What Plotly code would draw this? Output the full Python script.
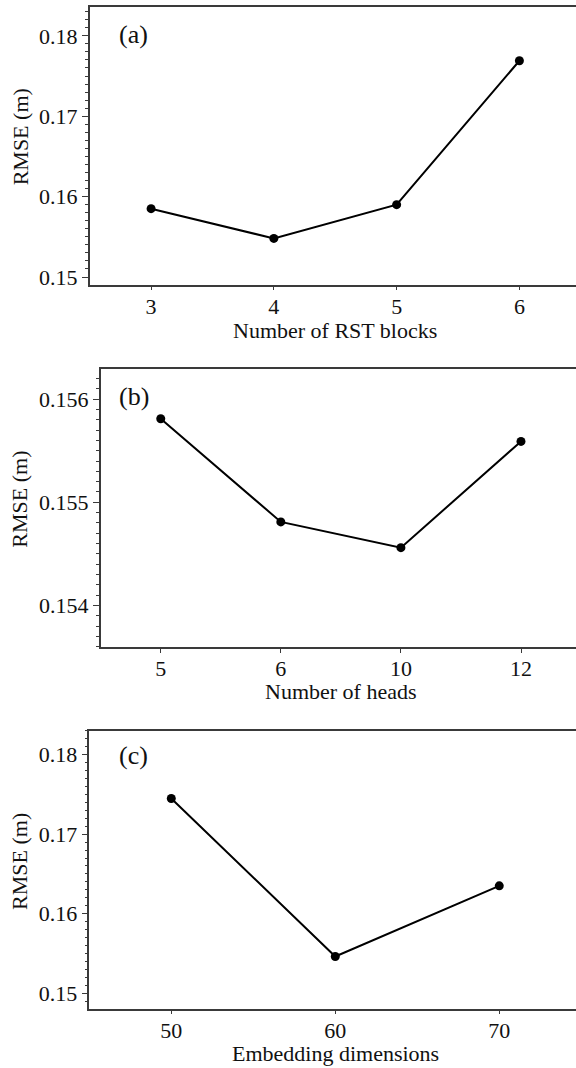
import plotly.graph_objects as go

# ---- data ----
rst_blocks = ["3", "4", "5", "6"]
rmse_blocks = [0.1585, 0.1548, 0.1590, 0.1769]

heads = ["5", "6", "10", "12"]
rmse_heads = [0.15581, 0.15481, 0.15456, 0.15559]

embed_dims = ["50", "60", "70"]
rmse_embed = [0.1745, 0.1546, 0.1635]

panel_labels = ["(a)", "(b)", "(c)"]
x_titles = ["Number of RST blocks", "Number of heads", "Embedding dimensions"]
y_title = "RMSE (m)"

W, H = 576, 1068
FONT = "Liberation Serif"
AX = "#3a3a3a"

fig = go.Figure()

panels = [
    dict(x=rst_blocks, y=rmse_blocks, left=89.7, top=7.3, bottom=286.0,
         xr=[-0.5, 3.461], yr=[0.14905, 0.18355], dt=0.01, mdt=0.001,
         lab_y=35, xt_y=332, xt_x=335, yt_y=138),
    dict(x=heads, y=rmse_heads, left=100.7, top=370.7, bottom=650.0,
         xr=[-0.5, 3.458], yr=[0.153598, 0.156292], dt=0.001, mdt=0.0001,
         lab_y=398, xt_y=695, xt_x=341, yt_y=502),
    dict(x=embed_dims, y=rmse_embed, left=89.3, top=734.3, bottom=1013.3,
         xr=[-0.5, 2.468], yr=[0.14805, 0.18301], dt=0.01, mdt=0.001,
         lab_y=759, xt_y=1058, xt_x=335, yt_y=866),
]

annotations = []
for i, p in enumerate(panels):
    n = "" if i == 0 else str(i + 1)
    fig.add_trace(go.Scatter(
        x=p["x"], y=p["y"], mode="lines+markers",
        line=dict(color="black", width=2),
        marker=dict(color="black", size=9),
        xaxis="x" + n, yaxis="y" + n, showlegend=False,
    ))
    xd = [p["left"] / W, 1.0]
    yd = [1 - p["bottom"] / H, 1 - p["top"] / H]
    fig.update_layout(**{
        "xaxis" + n: dict(
            domain=xd, anchor="y" + n, type="category", range=p["xr"],
            showline=True, linecolor=AX, linewidth=1.5, mirror=True,
            ticks="outside", ticklen=4, tickwidth=1.2, tickcolor=AX,
            ticklabelstandoff=-3,
            showgrid=False, zeroline=False,
            tickfont=dict(family=FONT, size=22, color="#111"),
        ),
        "yaxis" + n: dict(
            domain=yd, anchor="x" + n, range=p["yr"], dtick=p["dt"],
            tick0=0, showline=True, linecolor=AX, linewidth=1.5,
            ticks="outside", ticklen=6, tickwidth=1.2, tickcolor=AX,
            minor=dict(dtick=p["mdt"], ticks="outside", ticklen=3,
                       tickwidth=1, tickcolor=AX, showgrid=False),
            showgrid=False, zeroline=False,
            tickfont=dict(family=FONT, size=22, color="#111"),
        ),
    })
    annotations.append(dict(
        text=panel_labels[i], xref="paper", yref="paper",
        x=117 / W, y=1 - p["lab_y"] / H, xanchor="left", yanchor="middle",
        showarrow=False, font=dict(family=FONT, size=26, color="#111"),
    ))
    annotations.append(dict(
        text=x_titles[i], xref="paper", yref="paper",
        x=p["xt_x"] / W, y=1 - p["xt_y"] / H, xanchor="center", yanchor="middle",
        showarrow=False, font=dict(family=FONT, size=22, color="#111"),
    ))
    annotations.append(dict(
        text=y_title, xref="paper", yref="paper", textangle=-90,
        x=20 / W, y=1 - p["yt_y"] / H, xanchor="center", yanchor="middle",
        showarrow=False, font=dict(family=FONT, size=22, color="#111"),
    ))

fig.update_layout(
    width=W, height=H,
    margin=dict(l=0, r=0, t=0, b=0),
    paper_bgcolor="white", plot_bgcolor="white",
    annotations=annotations,
)

fig.write_html("out.html")
